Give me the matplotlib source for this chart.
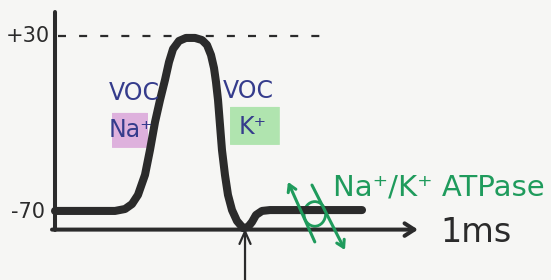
import matplotlib
matplotlib.use("Agg")
import matplotlib.pyplot as plt
from matplotlib.patches import Ellipse, FancyBboxPatch

# ---- data (time in ms, membrane potential in mV) ----
time_ms = [0.0, 1.0, 1.167, 1.283, 1.383, 1.5, 1.583, 1.667, 1.75, 1.833,
           1.9, 1.967, 2.067, 2.183, 2.333, 2.45, 2.533, 2.6, 2.65, 2.683,
           2.717, 2.75, 2.783, 2.833, 2.883, 2.95, 3.033, 3.133, 3.217, 3.283,
           3.35, 3.45, 3.583, 5.117]
voltage_mV = [-69.4, -69.4, -68.3, -65.5, -60.3, -48.9, -34.8, -18.9, -6.4, 5.0,
              15.2, 22.6, 27.2, 28.9, 28.9, 27.7, 24.9, 19.2, 11.8, 3.9,
              -6.4, -20.6, -34.8, -49.0, -60.3, -68.9, -75.1, -79.1, -78.5, -75.7,
              -71.7, -69.4, -68.9, -68.9]
tick_values = [30, -70]
tick_labels = ["+30", "-70"]
peak_level = 30
axis_level = -80
stimulus_time = 3.167
x_label = "1ms"
pump_label = "Na\u207a/K\u207a ATPase"
channel_labels = ["VOC", "VOC"]
ion_labels = ["Na\u207a", "K\u207a"]

INK = "#2b2b2b"
BLUE = "#353c8c"
GREEN = "#1f9b5c"
PINK_BOX = "#dcaadb"
GREEN_BOX = "#a9e2a8"
BG = "#f6f6f4"

fig = plt.figure(figsize=(5.51, 2.80), dpi=100, facecolor=BG)
ax = fig.add_axes([0, 0, 1, 1])
ax.set_facecolor(BG)
ax.set_xlim(-0.9167, 8.2667)
ax.set_ylim(-108.64, 50.45)
ax.axis("off")

hand = dict(family="DejaVu Sans")

# y axis
ax.plot([0, 0], [43.6, -80.5], color=INK, lw=2.9, solid_capstyle="round")
# x axis with arrow
ax.annotate("", xy=(6.05, axis_level), xytext=(-0.05, axis_level),
            arrowprops=dict(arrowstyle="->,head_length=0.7,head_width=0.45",
                            color=INK, lw=2.9, shrinkA=0, shrinkB=0))
# dashed +30 line
ax.plot([0.05, 4.5], [peak_level, peak_level], color=INK, lw=1.6,
        dashes=(3.6, 5.9))

# action potential
ax.plot(time_ms, voltage_mV, color=INK, lw=5.8, solid_capstyle="round",
        solid_joinstyle="round")

# stimulus arrow
ax.annotate("", xy=(stimulus_time, -79.5), xytext=(stimulus_time, -110),
            arrowprops=dict(arrowstyle="->,head_length=0.9,head_width=0.4",
                            color=INK, lw=1.6, shrinkA=0, shrinkB=0))

# tick labels
for v, lab in zip(tick_values, tick_labels):
    ax.text(-0.45, v, lab, ha="center", va="center", fontsize=15,
            color=INK, **hand)

ax.text(7.02, -81.4, x_label, ha="center", va="center", fontsize=24,
        color=INK, **hand)

# highlighted boxes
ax.add_patch(FancyBboxPatch((0.95, -33.6), 0.6, 19.9,
                            boxstyle="round,pad=0,rounding_size=0.05",
                            fc=PINK_BOX, ec="none", alpha=0.9, zorder=1))
ax.add_patch(FancyBboxPatch((2.917, -31.9), 0.83, 21.6,
                            boxstyle="round,pad=0,rounding_size=0.05",
                            fc=GREEN_BOX, ec="none", alpha=0.9, zorder=1))

ax.text(1.317, -2.4, channel_labels[0], ha="center", va="center",
        fontsize=17, color=BLUE, **hand)
ax.text(1.27, -23.4, ion_labels[0], ha="center", va="center",
        fontsize=17, color=BLUE, zorder=2, **hand)
ax.text(3.23, -1.25, channel_labels[1], ha="center", va="center",
        fontsize=17, color=BLUE, **hand)
ax.text(3.3, -21.7, ion_labels[1], ha="center", va="center",
        fontsize=17, color=BLUE, zorder=2, **hand)

# Na/K pump symbol
ax.annotate("", xy=(3.883, -52.9), xytext=(4.33, -87),
            arrowprops=dict(arrowstyle="->,head_length=0.5,head_width=0.3",
                            color=GREEN, lw=2.2, shrinkA=0, shrinkB=0))
ax.annotate("", xy=(4.833, -91.6), xytext=(4.283, -54.7),
            arrowprops=dict(arrowstyle="->,head_length=0.5,head_width=0.3",
                            color=GREEN, lw=2.2, shrinkA=0, shrinkB=0))
ax.add_patch(Ellipse((4.33, -71.1), 0.36, 14, angle=0, fill=False,
                     ec=GREEN, lw=2.0))

ax.text(6.4, -55.8, pump_label, ha="center", va="center", fontsize=21,
        color=GREEN, **hand)

fig.savefig("out.png", dpi=100, facecolor=BG)
